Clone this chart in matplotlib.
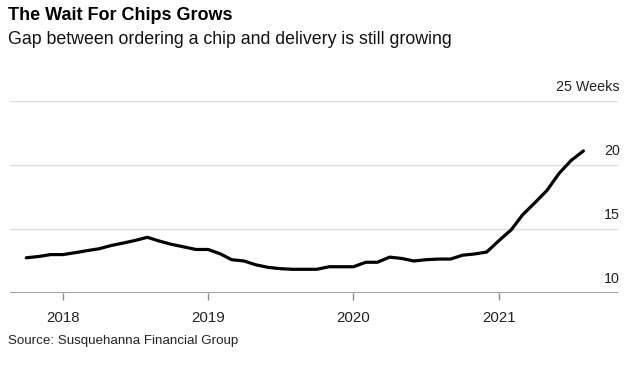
import matplotlib.pyplot as plt
import matplotlib.transforms as mtransforms
import pandas as pd

plt.rcParams["font.family"] = ["Liberation Sans", "DejaVu Sans"]

# monthly lead time in weeks, Oct 2017 - Aug 2021
months = pd.date_range("2017-10-01", "2021-08-01", freq="MS")
weeks = [
    12.75, 12.85, 13.0,
    13.0, 13.15, 13.3, 13.45, 13.7, 13.9, 14.1, 14.35, 14.05, 13.8, 13.6, 13.4,
    13.4, 13.05, 12.6, 12.5, 12.2, 12.0, 11.9, 11.85, 11.85, 11.85, 12.05, 12.05,
    12.05, 12.4, 12.4, 12.8, 12.7, 12.5, 12.6, 12.65, 12.65, 12.95, 13.05, 13.2,
    14.1, 14.95, 16.1, 17.05, 18.0, 19.35, 20.35, 21.1,
]
ytick_vals = [10, 15, 20, 25]
ytick_text = ["10", "15", "20", "25 Weeks"]
xtick_years = ["2018", "2019", "2020", "2021"]

fig = plt.figure(figsize=(6.38, 3.65), dpi=100)
ax = fig.add_axes([0.0157, 0.1973, 0.953, 0.526])

ax.plot(months, weeks, color="black", lw=2.3, solid_capstyle="round", zorder=3)

ax.set_ylim(10, 25)
ax.set_xlim(pd.Timestamp("2017-08-21"), pd.Timestamp("2021-10-27"))

for v in ytick_vals[1:]:
    ax.axhline(v, color="#dcdcdc", lw=1.0, zorder=1)
ax.axhline(10, color="#8c8c8c", lw=1.2, zorder=2)

trans = mtransforms.blended_transform_factory(fig.transFigure, ax.transData)
for v, t in zip(ytick_vals, ytick_text):
    ax.text(620 / 638, v + 0.55, t, transform=trans, ha="right", va="bottom",
            fontsize=10.3, color="#222222")

for s in ax.spines.values():
    s.set_visible(False)
ax.set_yticks([])
ax.set_xticks([pd.Timestamp(f"{y}-01-01") for y in xtick_years])
ax.set_xticklabels(xtick_years)
ax.tick_params(axis="x", length=5, width=1, color="#8c8c8c", pad=8,
               labelsize=10.8, labelcolor="#222222")

fig.text(8 / 638, 1 - 16 / 365, "The Wait For Chips Grows", fontsize=13,
         fontweight="bold", va="center", ha="left", color="black")
fig.text(8 / 638, 1 - 39 / 365,
         "Gap between ordering a chip and delivery is still growing",
         fontsize=12.8, va="center", ha="left", color="#111111")
fig.text(8 / 638, 1 - 341 / 365, "Source: Susquehanna Financial Group",
         fontsize=9.6, va="center", ha="left", color="#222222")

fig.savefig("out.png", dpi=100)
